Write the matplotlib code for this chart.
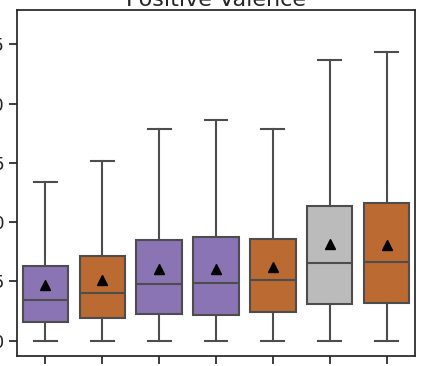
import numpy as np
import matplotlib.pyplot as plt

# box stats (y units of the hidden axis)
whis_lo = [0, 0, 0, 0, 0, 0, 0]
q1 = [1.6, 1.94, 2.26, 2.14, 2.45, 3.1, 3.16]
med = [3.44, 4.0, 4.82, 4.87, 5.13, 6.59, 6.65]
q3 = [6.31, 7.18, 8.5, 8.73, 8.59, 11.38, 11.6]
whis_hi = [13.38, 15.18, 17.88, 18.64, 17.88, 23.7, 24.32]
means = [4.68, 5.13, 6.06, 6.04, 6.2, 8.17, 8.06]
colors = ['#8a74b4', '#bb6a32', '#8a74b4', '#8a74b4', '#bb6a32', '#bbbbbb', '#bb6a32']
yticks = [0, 5, 10, 15, 20, 25]

plt.rcParams['font.family'] = ['DejaVu Sans']
fig = plt.figure(figsize=(4.26, 3.66), dpi=100)
ax = fig.add_axes([17/426, 10/366, 398/426, 346/366])

stats = []
for i in range(len(med)):
    stats.append(dict(whislo=whis_lo[i], q1=q1[i], med=med[i], q3=q3[i],
                      whishi=whis_hi[i], mean=means[i], fliers=[]))

lc = '#4d4d4d'
bp = ax.bxp(stats, positions=np.arange(len(stats)), widths=0.8, capwidths=0.4,
            patch_artist=True, showmeans=True,
            boxprops=dict(edgecolor=lc, linewidth=1.5),
            medianprops=dict(color=lc, linewidth=1.5),
            whiskerprops=dict(color=lc, linewidth=1.5),
            capprops=dict(color=lc, linewidth=1.5),
            meanprops=dict(marker='^', markerfacecolor='black', markeredgecolor='black', markersize=7))
for patch, c in zip(bp['boxes'], colors):
    patch.set_facecolor(c)

ax.set_xlim(-0.5, len(stats) - 0.5)
ax.set_ylim(-1.29, 27.9)
ax.set_yticks(yticks)
ax.set_yticklabels([str(t) for t in yticks], fontsize=13)
ax.set_xticks(np.arange(len(stats)))
ax.set_xticklabels([''] * len(stats))
ax.tick_params(length=6, width=1.25, pad=3, color='#262626', labelcolor='#262626')
for s in ax.spines.values():
    s.set_color('#262626')
    s.set_linewidth(1.25)
ax.set_title('Positive Valence', fontsize=16, pad=2.5, color='#262626')

fig.savefig('out.png', dpi=100)
